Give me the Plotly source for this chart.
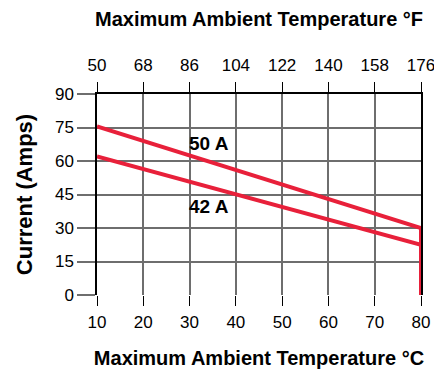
import plotly.graph_objects as go

# derating data
temp_c = [10, 80]
amps_50 = [75.5, 30]
amps_42 = [62, 22.5]
cutoff_c = [80, 80]
cutoff_amps = [30, 0]

c_ticks = [10, 20, 30, 40, 50, 60, 70, 80]
f_ticks = [50, 68, 86, 104, 122, 140, 158, 176]
amp_ticks = [0, 15, 30, 45, 60, 75, 90]

RED = '#e8203a'
GRID = '#6e6e6e'
FONT = 'Liberation Sans, Arial, sans-serif'

fig = go.Figure()
fig.add_trace(go.Scatter(x=temp_c, y=amps_50, mode='lines',
                         line=dict(color=RED, width=4), showlegend=False))
fig.add_trace(go.Scatter(x=temp_c, y=amps_42, mode='lines',
                         line=dict(color=RED, width=4), showlegend=False))
fig.add_trace(go.Scatter(x=cutoff_c, y=cutoff_amps, mode='lines',
                         line=dict(color=RED, width=4), showlegend=False))
# invisible trace so the °F axis gets drawn
fig.add_trace(go.Scatter(x=[f_ticks[0], f_ticks[-1]], y=[0, 0], xaxis='x2',
                         mode='markers', marker=dict(opacity=0),
                         showlegend=False, hoverinfo='skip'))

fig.add_annotation(x=34.3, y=67.8, text='<b>50 A</b>', showarrow=False,
                   font=dict(size=19, color='black', family=FONT))
fig.add_annotation(x=34.3, y=39.6, text='<b>42 A</b>', showarrow=False,
                   font=dict(size=19, color='black', family=FONT))

# margins allow for the 8px page body offset
fig.update_layout(
    width=442, height=370,
    margin=dict(l=89, r=29, t=86, b=83),
    plot_bgcolor='white', paper_bgcolor='white',
    font=dict(family=FONT, size=17, color='black'),
    xaxis=dict(range=[10, 80], tickvals=c_ticks, showgrid=True,
               gridcolor=GRID, gridwidth=2, ticks='outside', ticklen=10,
               tickcolor='black', tickwidth=1, showline=False, zeroline=False,
               automargin=False, ticklabelstandoff=2,
               title=dict(text='<b>Maximum Ambient Temperature °C</b>',
                          font=dict(size=20), standoff=19)),
    xaxis2=dict(range=[50, 176], tickvals=f_ticks, overlaying='x', side='top',
                showgrid=False, ticks='outside', ticklen=10, tickcolor='black',
                tickwidth=1, showline=True, linecolor='black', linewidth=1.5,
                zeroline=False, automargin=False, ticklabelstandoff=4,
                title=dict(text='<b>Maximum Ambient Temperature °F</b>',
                           font=dict(size=20), standoff=24)),
    yaxis=dict(range=[0, 90], tickvals=amp_ticks, showgrid=True,
               gridcolor=GRID, gridwidth=2, ticks='outside', ticklen=18,
               tickcolor=GRID, tickwidth=2, showline=True, linecolor='black',
               linewidth=1.5, mirror=True, zeroline=False, automargin=False,
               title=dict(text='<b>Current (Amps)</b>', font=dict(size=22),
                          standoff=16)),
)

fig.write_html("out.html")
